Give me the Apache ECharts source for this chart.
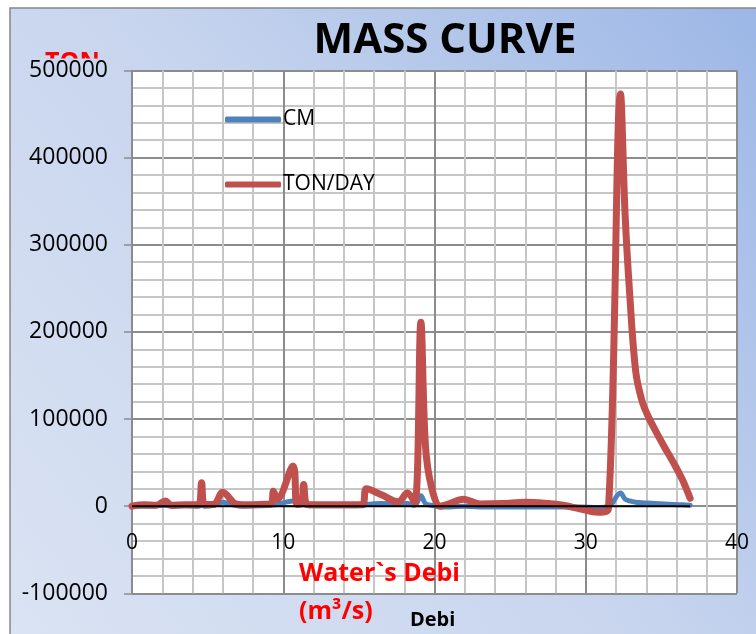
<!DOCTYPE html>
<html>
<head>
<meta charset="utf-8">
<title>MASS CURVE</title>
<script src="https://cdn.jsdelivr.net/npm/echarts@6/dist/echarts.min.js"></script>
<style>
  html, body { margin: 0; padding: 0; background: #ffffff; }
  #chart { width: 756px; height: 634px; }
</style>
</head>
<body>
<div id="chart"></div>
<script>
// Water discharge (m3/s) on the horizontal axis
const debi = [0, 0.8, 1.6, 2.2, 2.6, 3.5, 4.4, 4.6, 4.8, 5.4, 6.0, 6.8, 7.3, 8.5, 9.2, 9.35, 9.6,
  10.65, 10.9, 11.2, 11.35, 11.6, 13, 15.2, 15.5, 16.5, 17.6, 18.2, 18.7, 19.1, 19.4, 19.8, 20.4,
  21.0, 21.9, 23, 24.5, 26, 27.5, 28.5, 29.6, 30.8, 31.5, 32.3, 32.6, 32.9, 33.3, 33.7, 34.1, 34.6,
  35.2, 35.8, 36.4, 36.9];

// Sediment load, tons per day
const tonPerDay = [0, 1500, 1000, 6000, 1000, 1500, 1500, 27000, 2000, 2000, 16000, 3000, 1500, 2000, 3000, 17000, 8000,
  46000, 2000, 3000, 25000, 2000, 1500, 2000, 20000, 13000, 5000, 15000, 4000, 211000, 70000, 22000, 0,
  3000, 8000, 2500, 3000, 4500, 3000, 1000, -3000, -7000, -3000, 473000, 335000, 245000, 155000, 122000, 104000, 87000,
  68000, 50000, 30000, 9000];

// Cumulative mass
const cm = [500, 0, 500, 1000, 0, 500, 0, 1000, 0, 1000, 4500, 1000, 0, 500, 1000, 1500, 2000,
  6000, 4000, 1500, 2000, 500, 500, 500, 2000, 3000, 2500, 3000, 1000, 12000, 3000, 1000, -1000,
  -1000, 0, -1000, -1000, -1000, -1000, -1000, -1000, -1500, -500, 15000, 8000, 6000, 4500, 4000, 3500, 3000,
  2500, 2000, 1500, 1000];

// Zero reference line across the measured range
const baseX = [0, 36.9];
const baseY = [0, 0];

const xLabels = [0, 10, 20, 30, 40];

const FONT = '"Open Sans", "Liberation Sans", sans-serif';

const pairs = (xs, ys) => xs.map((x, i) => [x, ys[i]]);

const bgGradient = {
  type: 'linear', x: 10, y: 634, x2: 756, y2: 8, global: true,
  colorStops: [
    { offset: 0, color: '#dae3f3' },
    { offset: 0.5, color: '#c8d5ee' },
    { offset: 1, color: '#9cb7e6' }
  ]
};

const gridColors = ['#8c8c8c', '#c6c6c6', '#c6c6c6', '#c6c6c6', '#c6c6c6'];

const chart = echarts.init(document.getElementById('chart'), null, { renderer: 'canvas' });

chart.setOption({
  animation: false,
  backgroundColor: '#ffffff',
  graphic: [
    { type: 'rect', z: -20, shape: { x: 10, y: 8, width: 760, height: 640 },
      style: { fill: bgGradient, stroke: '#868686', lineWidth: 1.5 } },
    { type: 'text', z: -19, x: 45, y: 50,
      style: { text: 'TON', fill: '#ff0000', font: 'bold 25px ' + FONT, textAlign: 'left', textVerticalAlign: 'top' } },
    { type: 'rect', z: -18, shape: { x: 30, y: 58.5, width: 90, height: 12 },
      style: { fill: bgGradient } },
    { type: 'text', z: 5, x: 445, y: 41,
      style: { text: 'MASS CURVE', fill: '#000000', font: 'bold 42px ' + FONT, textAlign: 'center', textVerticalAlign: 'middle' } },
    { type: 'text', z: 5, x: 299, y: 574,
      style: { text: 'Water`s Debi', fill: '#ff0000', font: 'bold 25px ' + FONT, textAlign: 'left', textVerticalAlign: 'middle' } },
    { type: 'text', z: 5, x: 299, y: 612,
      style: { text: '(m³/s)', fill: '#ff0000', font: 'bold 25px ' + FONT, textAlign: 'left', textVerticalAlign: 'middle' } },
    { type: 'text', z: 5, x: 410, y: 620,
      style: { text: 'Debi', fill: '#000000', font: 'bold 20px ' + FONT, textAlign: 'left', textVerticalAlign: 'middle' } }
  ],
  grid: { left: 132, right: 19, top: 70.5, bottom: 40.7, show: true, backgroundColor: '#ffffff', borderWidth: 0 },
  legend: {
    orient: 'vertical', left: 225, top: 109, padding: 0, itemGap: 44,
    itemWidth: 56, itemHeight: 6, icon: 'roundRect',
    textStyle: { fontFamily: FONT, fontSize: 21, color: '#000000', padding: [0, 0, 0, -3] },
    data: ['CM', 'TON/DAY']
  },
  xAxis: [
    {
      type: 'value', min: 0, max: 40, interval: 2,
      axisLine: { show: false, onZero: false },
      axisTick: { show: false },
      // tick labels sit just under the zero line, inside the plot
      axisLabel: {
        margin: -61, fontFamily: FONT, fontSize: 21, color: '#000000',
        formatter: v => (xLabels.indexOf(v) >= 0 ? String(v) : '')
      },
      splitLine: { show: true, lineStyle: { width: 2, color: gridColors } }
    }
  ],
  yAxis: [
    {
      type: 'value', min: -100000, max: 500000, interval: 100000,
      axisLine: { show: true, onZero: false, lineStyle: { color: '#8c8c8c', width: 1.5 } },
      axisTick: { show: true, inside: false, length: 8, lineStyle: { color: '#8c8c8c', width: 1.5 } },
      axisLabel: { margin: 24, fontFamily: FONT, fontSize: 23, color: '#000000', formatter: v => String(v) },
      splitLine: { show: false }
    },
    {
      type: 'value', min: -100000, max: 500000, interval: 20000,
      axisLine: { show: false, onZero: false }, axisTick: { show: false }, axisLabel: { show: false },
      splitLine: { show: true, lineStyle: { width: 2, color: gridColors } }
    }
  ],
  series: [
    {
      name: 'CM', type: 'line', yAxisIndex: 0, data: pairs(debi, cm),
      smooth: 0.35, showSymbol: false, symbol: 'none',
      lineStyle: { color: '#4f81bd', width: 5, cap: 'round', join: 'round' },
      itemStyle: { color: '#4f81bd' }, z: 2
    },
    {
      name: 'TON/DAY', type: 'line', yAxisIndex: 0, data: pairs(debi, tonPerDay),
      smooth: 0.35, showSymbol: false, symbol: 'none',
      lineStyle: { color: '#c0504d', width: 7, cap: 'round', join: 'round' },
      itemStyle: { color: '#c0504d' }, z: 3
    },
    {
      name: 'Zero', type: 'line', yAxisIndex: 0, data: pairs(baseX, baseY),
      showSymbol: false, symbol: 'none', silent: true,
      lineStyle: { color: '#000000', width: 2 }, z: 4
    }
  ]
});
</script>
</body>
</html>
